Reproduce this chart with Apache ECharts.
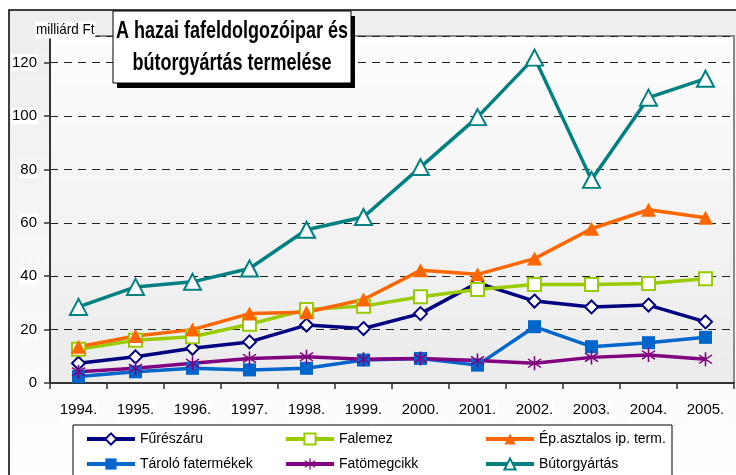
<!DOCTYPE html>
<html>
<head>
    <meta charset="utf-8">
    <script src="https://cdn.jsdelivr.net/npm/echarts@6/dist/echarts.min.js"></script>
    <style>
        body { margin: 0; background: #fff; }
        #main { width: 736px; height: 475px; }
    </style>
</head>
<body>
    <div id="main"></div>
    <script>
        // adatok (milliárd Ft)
        var years = ['1994.', '1995.', '1996.', '1997.', '1998.', '1999.', '2000.', '2001.', '2002.', '2003.', '2004.', '2005.'];
        var fureszaru = [7.4, 9.8, 13, 15.4, 21.7, 20.4, 26, 37.5, 30.7, 28.5, 29.2, 22.9];
        var falemez = [12.6, 16, 17.3, 22, 27.5, 28.8, 32.3, 35, 36.9, 36.9, 37.3, 39.1];
        var epasztalos = [13.6, 17.6, 20, 26, 26.5, 31.3, 42.2, 40.7, 46.6, 57.8, 64.9, 61.9];
        var tarolo = [2.4, 4.2, 5.5, 4.9, 5.5, 8.6, 9.2, 6.7, 21.1, 13.6, 15.1, 17.1];
        var fatomeg = [4.2, 5.5, 7.4, 9.2, 9.8, 8.9, 9.2, 8.4, 7.4, 9.6, 10.5, 8.9];
        var butor = [28.5, 36, 37.9, 42.9, 57.4, 62.2, 80.9, 99.6, 121.9, 76.1, 106.9, 114];

        var FONT = '"Liberation Sans", Arial, sans-serif';
        // csillag (asterisk) marker
        var STAR = 'path://M4.5 0 L5.5 0 L5.5 10 L4.5 10 Z M1.3 1.6 L9.3 7.6 L8.7 8.4 L0.7 2.4 Z M0.7 7.6 L8.7 1.6 L9.3 2.4 L1.3 8.4 Z';

        function line(name, data, color, symbol, size, fill, border) {
            return {
                name: name,
                type: 'line',
                data: data,
                symbol: symbol,
                symbolSize: size,
                showAllSymbol: true,
                lineStyle: { color: color, width: 3.5 },
                itemStyle: { color: fill, borderColor: border || fill, borderWidth: border ? 2 : 0, opacity: 1 },
                emphasis: { disabled: true },
                animation: false
            };
        }

        function legendCol(left, items) {
            return {
                data: items,
                left: left,
                top: 432,
                orient: 'vertical',
                padding: 0,
                itemWidth: 48,
                itemHeight: 14,
                itemGap: 11,
                z: 10,
                lineStyle: { width: 4 },
                textStyle: { fontFamily: FONT, fontSize: 14, color: '#000' }
            };
        }

        var myChart = echarts.init(document.getElementById('main'));
        myChart.setOption({
            backgroundColor: '#fff',
            animation: false,
            grid: {
                left: 50, right: 2, top: 36, bottom: 92,
                show: true,
                borderColor: '#8a8a8a',
                borderWidth: 2,
                backgroundColor: {
                    type: 'linear', x: 0, y: 0, x2: 0, y2: 1,
                    colorStops: [{ offset: 0, color: '#fdfdfd' }, { offset: 1, color: '#ebebeb' }]
                }
            },
            graphic: [
                {
                    type: 'rect', z: -100,
                    shape: { x: 9, y: 10, width: 740, height: 480 },
                    style: {
                        fill: {
                            type: 'linear', x: 0, y: 0, x2: 0, y2: 1,
                            colorStops: [{ offset: 0, color: '#ededed' }, { offset: 1, color: '#ffffff' }]
                        },
                        stroke: '#000', lineWidth: 1.5
                    }
                },
                {
                    type: 'text', z: 50, x: 35, y: 30,
                    style: { text: 'milliárd Ft', font: '15px ' + FONT, fill: '#000', backgroundColor: '#fff', padding: [1, 1], verticalAlign: 'middle' },
                    scaleX: 0.9
                },
                // legenda kerete
                {
                    type: 'rect', z: 1,
                    shape: { x: 73, y: 425, width: 599, height: 70 },
                    style: { fill: '#fff', stroke: '#000', lineWidth: 1 }
                },
                // cím doboz
                {
                    type: 'rect', z: 60,
                    shape: { x: 117, y: 16, width: 238, height: 72 },
                    style: { fill: '#000' }
                },
                {
                    type: 'rect', z: 61,
                    shape: { x: 113, y: 11, width: 238, height: 72 },
                    style: { fill: '#fff', stroke: '#000', lineWidth: 1 }
                },
                {
                    type: 'text', z: 62, x: 232, y: 31, scaleX: 0.75,
                    style: { text: 'A hazai fafeldolgozóipar és', font: 'bold 24px ' + FONT, fill: '#000', align: 'center', verticalAlign: 'middle' }
                },
                {
                    type: 'text', z: 62, x: 232, y: 63, scaleX: 0.75,
                    style: { text: 'bútorgyártás termelése', font: 'bold 24px ' + FONT, fill: '#000', align: 'center', verticalAlign: 'middle' }
                }
            ],
            legend: [
                legendCol(85, ['Fűrészáru', 'Tároló fatermékek']),
                legendCol(284, ['Falemez', 'Fatömegcikk']),
                legendCol(484, ['Ép.asztalos ip. term.', 'Bútorgyártás'])
            ],
            xAxis: {
                type: 'category',
                data: years,
                boundaryGap: true,
                axisLine: { lineStyle: { color: '#333', width: 2 } },
                axisTick: { show: true, length: 6, lineStyle: { color: '#333', width: 1.5 } },
                axisLabel: { color: '#000', fontFamily: FONT, fontSize: 15, margin: 18, backgroundColor: '#fff', padding: [1, 1] },
                splitLine: { show: false }
            },
            yAxis: {
                type: 'value',
                min: 0, max: 130, interval: 20,
                axisLine: { show: true, lineStyle: { color: '#333', width: 2 } },
                axisTick: { show: true, length: 6, lineStyle: { color: '#333', width: 1.5 } },
                axisLabel: { color: '#000', fontFamily: FONT, fontSize: 15, margin: 12, showMaxLabel: false, backgroundColor: '#fff', padding: [1, 1] },
                splitLine: { lineStyle: { color: '#222', width: 1, type: [8, 6] } }
            },
            series: [
                line('Fűrészáru', fureszaru, '#000080', 'diamond', [13, 13], '#fff', '#000080'),
                line('Falemez', falemez, '#99cc00', 'rect', [13, 13], '#fff', '#99cc00'),
                line('Ép.asztalos ip. term.', epasztalos, '#ff6600', 'triangle', [15, 14], '#ff6600'),
                line('Tároló fatermékek', tarolo, '#0066cc', 'rect', [13, 13], '#0066cc'),
                line('Fatömegcikk', fatomeg, '#800080', STAR, [14, 14], '#800080'),
                line('Bútorgyártás', butor, '#008080', 'triangle', [17, 16], '#fff', '#008080')
            ]
        });
    </script>
</body>
</html>
